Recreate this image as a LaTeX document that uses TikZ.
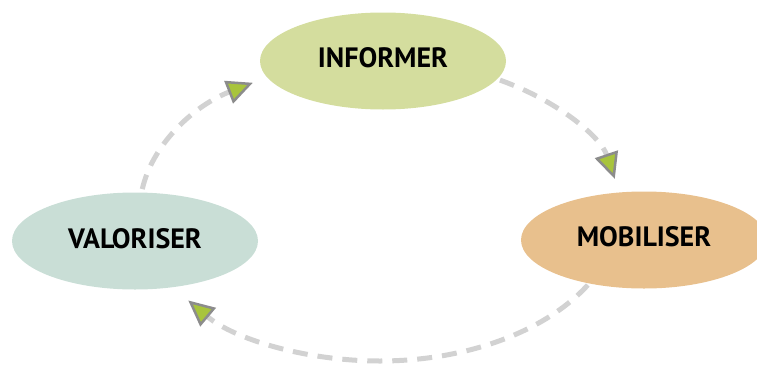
\documentclass[tikz,border=0pt]{standalone}
\usepackage{fontspec}
\setmainfont{PT Sans}
\usetikzlibrary{shapes.geometric,arrows.meta}
\definecolor{infcol}{HTML}{D4DD9E}
\definecolor{mobcol}{HTML}{E8C08D}
\definecolor{valcol}{HTML}{C9DED6}
\definecolor{dashcol}{HTML}{D2D2D2}
\definecolor{tipfill}{HTML}{A8C43C}
\definecolor{tipline}{HTML}{8C8C8C}
\tikzset{
  bubble/.style={ellipse, inner sep=0pt, minimum width=246pt, minimum height=97pt,
    text depth=6pt, font=\bfseries\fontsize{28}{30}\selectfont, text=black},
  cyclearrow/.style={draw=dashcol, line width=5pt, dash pattern=on 15pt off 10pt,
    -{Triangle[length=26pt, width=24pt, line width=2.5pt, fill=tipfill, color=tipline]}},
}
\begin{document}
\begin{tikzpicture}[x=1pt,y=1pt]
\useasboundingbox (0,0) rectangle (757,-364);
\node[bubble, fill=infcol] (inf) at (383,-61) {INFORMER};
\node[bubble, fill=mobcol] (mob) at (644,-240) {MOBILISER};
\node[bubble, fill=valcol] (val) at (135,-241) {VALORISER};
\coordinate (s1) at (500,-80.1);
\coordinate (s2) at (587.8,-285);
\coordinate (s3) at (142.3,-189.1);
\draw[cyclearrow] (s1) arc[start angle=60, end angle=12, x radius=240pt, y radius=150pt];
\draw[cyclearrow] (s2) arc[start angle=-30, end angle=-143, x radius=240pt, y radius=152pt];
\draw[cyclearrow] (s3) arc[start angle=172, end angle=122, x radius=240pt, y radius=150pt];
\end{tikzpicture}
\end{document}
